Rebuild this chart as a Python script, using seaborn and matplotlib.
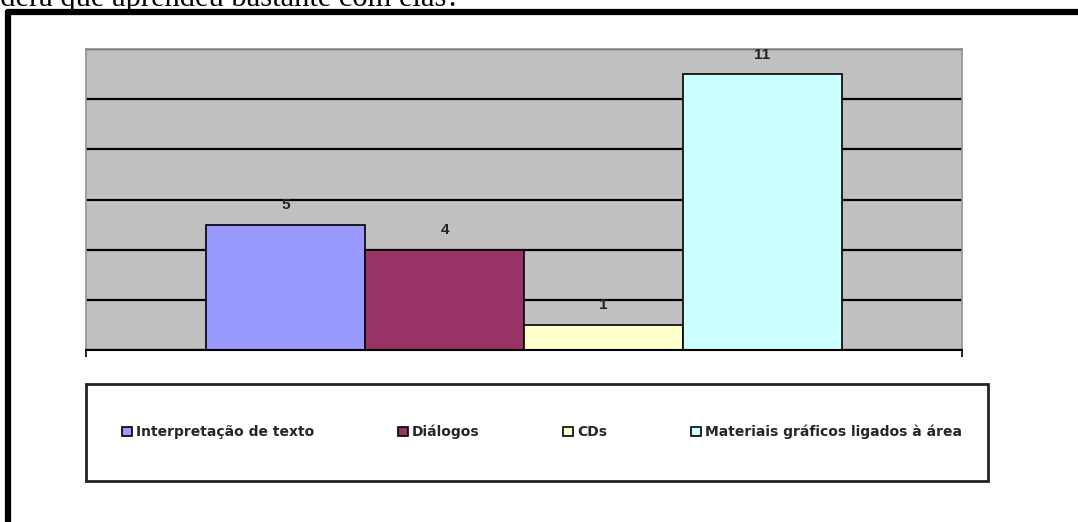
import matplotlib
matplotlib.use("Agg")
import matplotlib.pyplot as plt
import seaborn as sns
from matplotlib.patches import Patch, Rectangle
from matplotlib.lines import Line2D

# dados do gráfico
categorias = ["Interpretação de texto", "Diálogos", "CDs", "Materiais gráficos ligados à área"]
respostas = [5, 4, 1, 11]
cores = ["#9999FF", "#993366", "#FFFFCC", "#CCFFFF"]
titulo = "Considera que aprendeu bastante com elas?"

W, H = 1078, 522
sns.set_style("white")
plt.rcParams["font.family"] = ["Liberation Sans", "DejaVu Sans"]

fig = plt.figure(figsize=(W / 100, H / 100), dpi=100)
fig.patch.set_facecolor("white")

# área do gráfico (pixels da referência)
ax = fig.add_axes([86 / W, 1 - 350 / H, 876 / W, 301 / H])
ax.set_facecolor("#C0C0C0")

sns.barplot(x=categorias, y=respostas, hue=categorias, palette=cores,
            width=1, edgecolor="black", linewidth=1.2, legend=False,
            saturation=1, ax=ax)

for c in ax.containers:
    ax.bar_label(c, padding=9, fontsize=11, fontweight="bold", color="#222222")

ax.set_ylim(0, 12)
ax.set_xlim(-1.255, 4.255)
ax.set_yticks(range(0, 13, 2))
ax.yaxis.grid(True, color="black", linewidth=1.6)
ax.set_axisbelow(True)
ax.tick_params(axis="y", left=False, labelleft=False)
ax.set_xticks([-1.255, 4.255])
ax.tick_params(axis="x", bottom=True, length=5, width=1.2, color="black", labelbottom=False)
ax.set_xlabel("")
ax.set_ylabel("")
for lado in ["left", "top", "right"]:
    ax.spines[lado].set_color("#909090")
    ax.spines[lado].set_linewidth(1.2)
ax.spines["bottom"].set_color("black")
ax.spines["bottom"].set_linewidth(1.5)

# caixa da legenda
fig.add_artist(Rectangle((86 / W, 1 - 481 / H), 902 / W, 97 / H,
                         transform=fig.transFigure, facecolor="white",
                         edgecolor="#222222", linewidth=2))
handles = [Patch(facecolor=c, edgecolor="black", linewidth=1.2) for c in cores]
fig.legend(handles, categorias, ncol=4, mode="expand", loc="center",
           bbox_to_anchor=(122 / W, 1 - 445 / H, 840 / W, 26 / H),
           frameon=False, handlelength=0.7, handleheight=0.7,
           handletextpad=0.3, borderpad=0, borderaxespad=0,
           prop={"size": 10, "weight": "bold", "family": "DejaVu Sans"})

# moldura preta
fig.add_artist(Line2D([8 / W, 1], [1 - 12 / H, 1 - 12 / H], color="black", linewidth=4.5,
                      transform=fig.transFigure))
fig.add_artist(Line2D([8 / W, 8 / W], [0, 1 - 12 / H], color="black", linewidth=4.5,
                      transform=fig.transFigure))

# título cortado no topo
fig.text(460 / W, 1 - 6 / H, titulo, ha="right", va="baseline",
         fontsize=22, family=["Liberation Serif", "DejaVu Serif"], color="black")

fig.savefig("out.png", dpi=100)
